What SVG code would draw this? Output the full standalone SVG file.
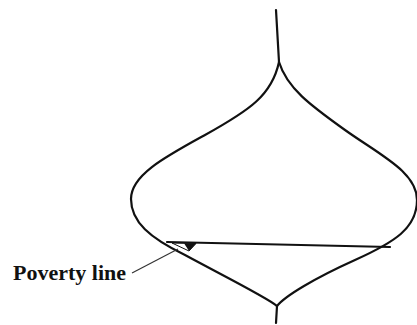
<svg xmlns="http://www.w3.org/2000/svg" width="417" height="325" viewBox="0 0 417 325">
<style>
.curve{fill:none;stroke:#111;stroke-width:2.2;stroke-linecap:round;stroke-linejoin:round}
.thin{fill:none;stroke:#333;stroke-width:1.2}
.lbl{font-family:"Liberation Serif","Times New Roman",serif;font-weight:bold;font-size:22px;fill:#111}
</style>
<rect width="417" height="325" fill="#fff"/>
<g id="distribution">
<path class="curve" d="M276,10 L279,62"/>
<path class="curve" d="M279,62 C272,95 250,110 205,135 C165,157 131,175 131,199 C131,222 150,238 185,255 C220,274 268,298 277,306"/>
<path class="curve" d="M279,62 C287,88 310,105 345,130 C380,155 417,172 417,200 C417,228 395,242 355,260 C315,278 285,296 277,306"/>
<path class="curve" d="M277,306 L276,323"/>
</g>
<g id="poverty-line">
<path class="curve" d="M167,242 L390,247"/>
</g>
<g id="label">
<text class="lbl" x="13" y="280">Poverty line</text>
</g>
<g id="connectors">
<path class="thin" d="M132,273 L178,249"/>
<polygon points="172,243 196,243.5 189,251" fill="none" stroke="#111" stroke-width="1"/>
<polygon points="184,243.2 196,243.5 189,251" fill="#111"/>
</g>
</svg>
